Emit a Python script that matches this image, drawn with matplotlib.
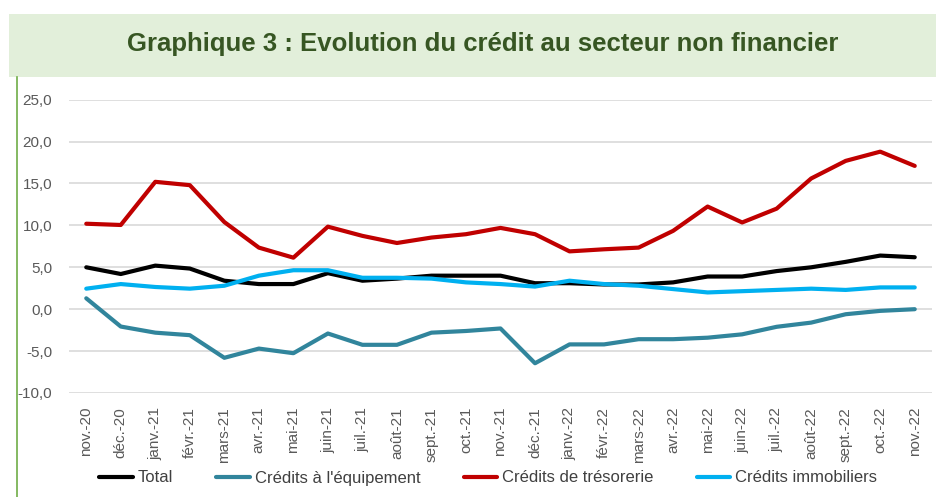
import matplotlib
matplotlib.use("Agg")
import matplotlib.pyplot as plt
from matplotlib.patches import Rectangle
from matplotlib.lines import Line2D
from matplotlib.ticker import FuncFormatter

plt.rcParams['font.family'] = ['Liberation Sans', 'DejaVu Sans']

months = ["nov.-20", "déc.-20", "janv.-21", "févr.-21", "mars-21", "avr.-21", "mai-21",
          "juin-21", "juil.-21", "août-21", "sept.-21", "oct.-21", "nov.-21", "déc.-21",
          "janv.-22", "févr.-22", "mars-22", "avr.-22", "mai-22", "juin-22", "juil.-22",
          "août-22", "sept.-22", "oct.-22", "nov.-22"]

total = [5.0, 4.2, 5.2, 4.85, 3.4, 3.0, 3.0, 4.3, 3.4, 3.65, 4.0, 4.0, 4.0, 3.1,
         3.1, 2.95, 2.95, 3.2, 3.9, 3.9, 4.55, 5.0, 5.65, 6.4, 6.2]
equipement = [1.3, -2.07, -2.8, -3.1, -5.8, -4.7, -5.25, -2.9, -4.25, -4.25, -2.8, -2.6,
              -2.3, -6.45, -4.2, -4.2, -3.58, -3.58, -3.4, -3.0, -2.1, -1.6, -0.6, -0.2, 0.0]
tresorerie = [10.2, 10.05, 15.2, 14.8, 10.4, 7.35, 6.15, 9.85, 8.75, 7.9, 8.55, 8.95,
              9.7, 8.95, 6.9, 7.15, 7.35, 9.35, 12.25, 10.35, 12.0, 15.6, 17.7, 18.8, 17.1]
immobiliers = [2.45, 3.0, 2.65, 2.45, 2.8, 4.0, 4.65, 4.65, 3.75, 3.75, 3.65, 3.2,
               3.0, 2.7, 3.4, 3.0, 2.8, 2.4, 2.0, 2.15, 2.3, 2.45, 2.3, 2.6, 2.6]

series = [("Total", total, "#000000"),
          ("Crédits à l'équipement", equipement, "#31859C"),
          ("Crédits de trésorerie", tresorerie, "#C00000"),
          ("Crédits immobiliers", immobiliers, "#00B0F0")]

fig = plt.figure(figsize=(9.37, 4.97), dpi=100)

# title band
fig.patches.append(Rectangle((9 / 937, 1 - 77 / 497), 1, 63 / 497, transform=fig.transFigure,
                             facecolor="#E2EFDA", edgecolor="none", zorder=0))
fig.lines.append(Line2D([17 / 937, 17 / 937], [0, 1 - 77 / 497], transform=fig.transFigure,
                        color="#70AD47", linewidth=1.2))
fig.text(0.515, 1 - 44 / 497, "Graphique 3 : Evolution du crédit au secteur non financier",
         ha="center", va="center", fontsize=18.5, fontweight="bold", color="#375623")

ax = fig.add_axes([69 / 937, (497 - 393) / 497, (932 - 69) / 937, (393 - 99.7) / 497])
x = list(range(len(months)))
for name, vals, col in series:
    ax.plot(x, vals, color=col, linewidth=3.0, label=name, solid_capstyle="round")

ax.set_xlim(-0.5, len(months) - 0.5)
ax.set_ylim(-10, 25)
ax.set_yticks([-10, -5, 0, 5, 10, 15, 20, 25])
ax.yaxis.set_major_formatter(FuncFormatter(lambda v, p: f"{v:.1f}".replace(".", ",")))
ax.set_xticks(x)
ax.set_xticklabels(months, rotation=90)
ax.tick_params(axis="both", length=0, labelsize=11, colors="#595959")
ax.tick_params(axis="x", pad=10)
ax.tick_params(axis="y", pad=12)
ax.grid(axis="y", color="#D9D9D9", linewidth=1.2)
ax.set_axisbelow(True)
for s in ax.spines.values():
    s.set_visible(False)

fig.legend(loc="center", bbox_to_anchor=(0.521, 1 - 478 / 497), ncol=4, frameon=False,
           fontsize=12, handlelength=2.0, columnspacing=2.6, handletextpad=0.3,
           labelcolor="#404040")

fig.savefig("out.png", dpi=100)
